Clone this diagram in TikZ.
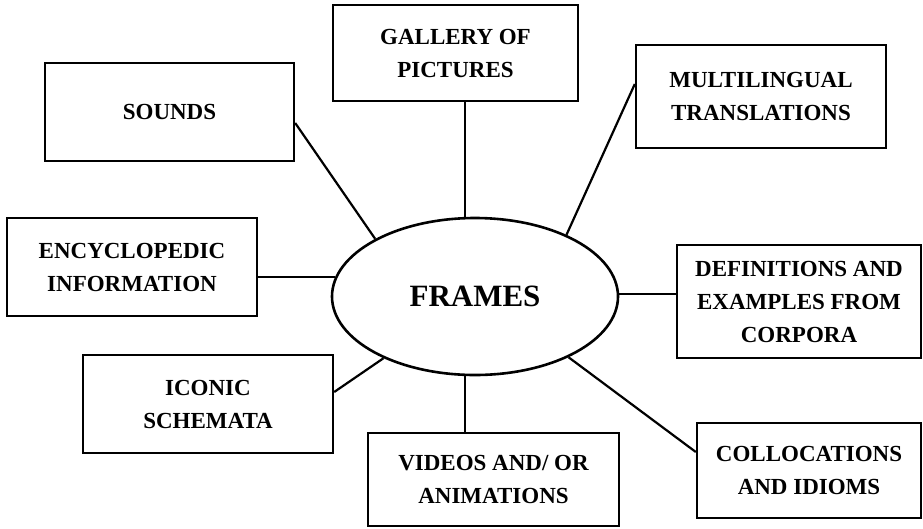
\documentclass[tikz,border=0pt]{standalone}
\usepackage{fontspec}
\setmainfont{Liberation Serif}
\usetikzlibrary{shapes.geometric}
\tikzset{
  box/.style={draw=black, line width=2.4pt, rectangle, inner sep=0pt, align=center,
    font=\fontsize{23}{33}\selectfont\bfseries},
  hub/.style={draw=black, line width=2.6pt, ellipse, inner sep=0pt,
    minimum width=286pt, minimum height=157pt, font=\fontsize{31}{36}\selectfont\bfseries},
  link/.style={draw=black, line width=2.2pt}
}
\begin{document}
\begin{tikzpicture}[x=1pt, y=-1pt]
\useasboundingbox (0,0) rectangle (923,528);
\fill[white] (0,0) rectangle (923,528);

\node[hub] (frames) at (475,296.5) {\raisebox{-5pt}{FRAMES}};

\node[box, minimum width=249pt, minimum height=98pt] (sounds) at (169.5,112) {\raisebox{-7pt}{SOUNDS}};
\node[box, minimum width=245pt, minimum height=96pt] (gallery) at (455.5,53) {GALLERY OF\\PICTURES};
\node[box, minimum width=250pt, minimum height=103pt] (multi) at (761,96.5) {MULTILINGUAL\\TRANSLATIONS};
\node[box, minimum width=250pt, minimum height=98pt] (encyc) at (132,267) {ENCYCLOPEDIC\\INFORMATION};
\node[box, minimum width=244pt, minimum height=113pt] (defs) at (799,301.5) {DEFINITIONS AND\\EXAMPLES FROM\\CORPORA};
\node[box, minimum width=250pt, minimum height=98pt] (iconic) at (208,404) {ICONIC\\SCHEMATA};
\node[box, minimum width=251pt, minimum height=93pt] (videos) at (493.5,479.5) {VIDEOS AND/ OR\\ANIMATIONS};
\node[box, minimum width=224pt, minimum height=95pt] (colloc) at (809,470.5) {COLLOCATIONS\\AND IDIOMS};

\draw[link] ([yshift=-11pt]sounds.east) -- (frames.150.4);
\draw[link] ([xshift=9.5pt]gallery.south) -- ([xshift=9.5pt]gallery.south |- frames.north);
\draw[link] ([yshift=12.5pt]multi.west) -- (frames.34);
\draw[link] (frames.172.4) -- (frames.172.4 -| encyc.east);
\draw[link] (frames.1.4) -- (frames.1.4 -| defs.west);
\draw[link] ([yshift=12pt]iconic.east) -- (frames.214.5);
\draw[link] ([xshift=-28.5pt]videos.north) -- ([xshift=-28.5pt]videos.north |- frames.south);
\draw[link] ([yshift=18.5pt]colloc.west) -- (frames.-33.9);
\end{tikzpicture}
\end{document}
